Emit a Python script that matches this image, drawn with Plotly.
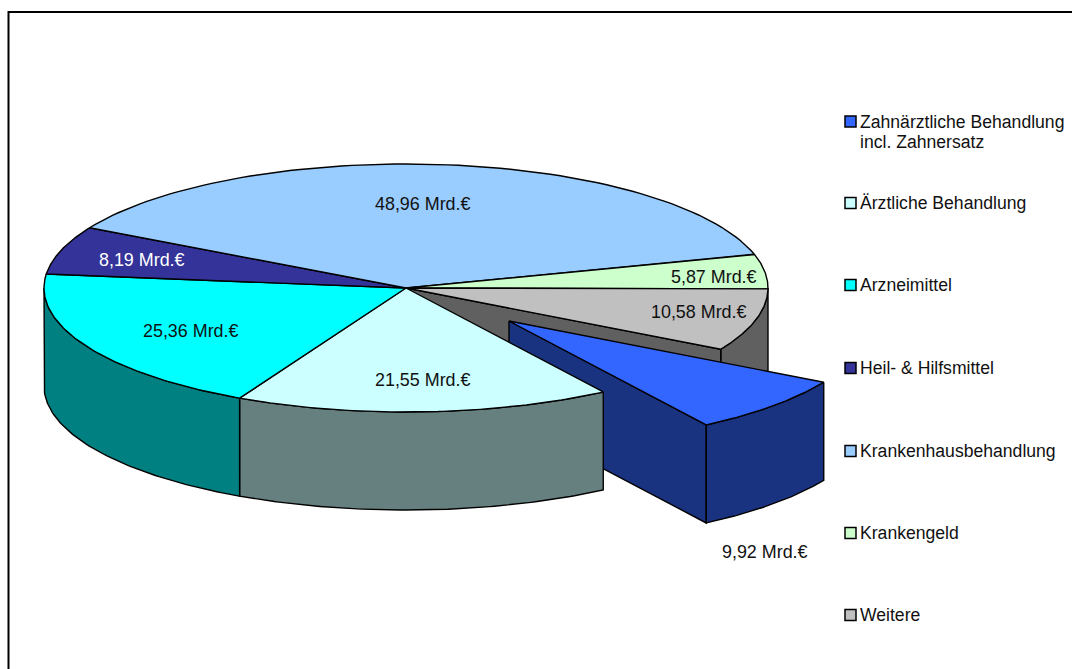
import math
import plotly.graph_objects as go

categories = ["Zahnärztliche Behandlung<br>incl. Zahnersatz", "Ärztliche Behandlung", "Arzneimittel",
              "Heil- & Hilfsmittel", "Krankenhausbehandlung", "Krankengeld", "Weitere"]
values = [9.92, 21.55, 25.36, 8.19, 48.96, 5.87, 10.58]
top_colors = ["#3366FF", "#CCFFFF", "#00FFFF", "#333399", "#99CCFF", "#CCFFCC", "#C0C0C0"]
side_colors = ["#1A3380", "#668080", "#008080", "#1A1A4D", "#4D6680", "#668066", "#606060"]
label_colors = ["#111111", "#111111", "#111111", "#FFFFFF", "#111111", "#111111", "#111111"]

CX, CY, RX, RY, DEPTH = 406, 288, 362, 124, 98
EXPLODE = (103, 33)
FONT = "Liberation Sans"
label_pos = [(765, 552), (423, 380), (191, 331), (142, 260), (423, 204), (714, 277), (699, 312)]
legend_y = [121.5, 203, 285, 368, 451, 533, 615]

total = sum(values)
spans = [v / total * 360 for v in values]
start = spans[-1] + 0.4
bounds = []
a = start
for s in spans:
    bounds.append([a, a + s])
    a += s
# the original's 3D projection moves this one edge slightly
bounds[1][1] += 0.9
bounds[2][0] += 0.9


def pt(deg, ox=0, oy=0):
    r = math.radians(deg)
    return CX + ox + RX * math.cos(r), CY + oy + RY * math.sin(r)


def arc(a0, a1, ox=0, oy=0, n=80):
    return [pt(a0 + (a1 - a0) * i / n, ox, oy) for i in range(n + 1)]


def poly(points, color, width=1.4):
    xs = [p[0] for p in points] + [points[0][0]]
    ys = [p[1] for p in points] + [points[0][1]]
    return go.Scatter(x=xs, y=ys, mode="lines", fill="toself", fillcolor=color,
                      line=dict(color="#000000", width=width), hoverinfo="skip", showlegend=False)


def top(i, ox=0, oy=0):
    return poly([(CX + ox, CY + oy)] + arc(*bounds[i], ox, oy), top_colors[i])


def wall(i, a0, a1, ox=0, oy=0):
    return poly(arc(a0, a1, ox, oy) + arc(a1, a0, ox, oy + DEPTH), side_colors[i])


def cut(i, deg, ox=0, oy=0):
    p = pt(deg, ox, oy)
    return poly([(CX + ox, CY + oy), p, (p[0], p[1] + DEPTH), (CX + ox, CY + oy + DEPTH)], side_colors[i])


fig = go.Figure()
ex, ey = EXPLODE
# back to front
fig.add_trace(wall(6, 0.4, start))
fig.add_trace(cut(6, start))
fig.add_trace(cut(0, bounds[0][1], ex, ey))
fig.add_trace(wall(0, *bounds[0], ex, ey))
fig.add_trace(top(0, ex, ey))
fig.add_trace(wall(1, *bounds[1]))
fig.add_trace(wall(2, bounds[2][0], 180))
for i in [1, 2, 3, 4, 5, 6]:
    fig.add_trace(top(i))

# legend
fig.add_trace(go.Scatter(x=[850.5] * len(categories), y=legend_y, mode="markers",
                         marker=dict(symbol="square", size=11, color=top_colors,
                                     line=dict(color="#000000", width=1.5)),
                         hoverinfo="skip", showlegend=False))
ann = []
for c, y in zip(categories, legend_y):
    for k, line in enumerate(c.split("<br>")):
        ann.append(dict(x=858, y=y + k * 20, text=line, showarrow=False, xanchor="left", yanchor="middle",
                        align="left", font=dict(family=FONT, size=17.6, color="#111111")))
for v, (x, y), col in zip(values, label_pos, label_colors):
    ann.append(dict(x=x, y=y, text=f"{v:.2f}".replace(".", ",") + " Mrd.€", showarrow=False,
                    font=dict(family=FONT, size=17.9, color=col)))

fig.update_layout(
    width=1072, height=669, margin=dict(l=0, r=0, t=0, b=0),
    paper_bgcolor="#FFFFFF", plot_bgcolor="#FFFFFF", showlegend=False,
    xaxis=dict(range=[0, 1072], visible=False, fixedrange=True),
    yaxis=dict(range=[669, 0], visible=False, fixedrange=True),
    annotations=ann,
    shapes=[
        dict(type="line", x0=8.5, x1=8.5, y0=11, y1=669, line=dict(color="#000000", width=2)),
        dict(type="line", x0=8, x1=1072, y0=12, y1=12, line=dict(color="#000000", width=2)),
    ],
)
fig.write_html("out.html", config={"displayModeBar": False},
               post_script="document.body.style.margin='0';document.body.style.overflow='hidden';")
